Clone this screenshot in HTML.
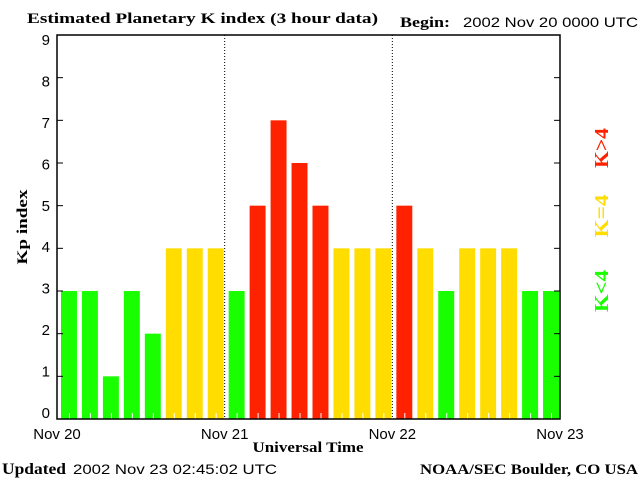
<!DOCTYPE html>
<html><head><meta charset="utf-8"><style>
body{margin:0;background:#fff;}
svg text{font-family:"Liberation Sans",sans-serif;}
.serif{font-family:"Liberation Serif",serif;font-weight:bold;}
</style></head><body>
<svg width="640" height="480" xmlns="http://www.w3.org/2000/svg">
<text class="serif" x="27" y="23" font-size="15" textLength="351" lengthAdjust="spacingAndGlyphs">Estimated Planetary K index (3 hour data)</text>
<text class="serif" x="400" y="27" font-size="15" textLength="50" lengthAdjust="spacingAndGlyphs">Begin:</text>
<text x="463" y="27" font-size="14" textLength="175" lengthAdjust="spacingAndGlyphs">2002 Nov 20 0000 UTC</text>
<g id="plot"></g>
<text class="serif" transform="translate(27,227) rotate(-90)" text-anchor="middle" font-size="15" textLength="75" lengthAdjust="spacingAndGlyphs">Kp index</text>
<text class="serif" x="308" y="452" text-anchor="middle" font-size="15" textLength="111" lengthAdjust="spacingAndGlyphs">Universal Time</text>
<text class="serif" x="2" y="474" font-size="16" textLength="64" lengthAdjust="spacingAndGlyphs">Updated</text>
<text x="73" y="474" font-size="14" textLength="204" lengthAdjust="spacingAndGlyphs">2002 Nov 23 02:45:02 UTC</text>
<text class="serif" x="420" y="474" font-size="15" textLength="218" lengthAdjust="spacingAndGlyphs">NOAA/SEC Boulder, CO USA</text>
<text class="serif" transform="translate(608,148) rotate(-90)" text-anchor="middle" font-size="20" textLength="40" lengthAdjust="spacingAndGlyphs" fill="#ff2200">K&gt;4</text>
<text class="serif" transform="translate(608,216) rotate(-90)" text-anchor="middle" font-size="20" textLength="43" lengthAdjust="spacingAndGlyphs" fill="#ffdd00">K=4</text>
<text class="serif" transform="translate(608,291) rotate(-90)" text-anchor="middle" font-size="20" textLength="42" lengthAdjust="spacingAndGlyphs" fill="#1aff00">K&lt;4</text>
</svg>
<script>
const kpValues=[3,3,1,3,2,4,4,4,3,5,7,6,5,4,4,4,5,4,3,4,4,4,3,3];
const yTicks=[0,1,2,3,4,5,6,7,8,9];
const dayLabels=["Nov 20","Nov 21","Nov 22","Nov 23"];
const NS="http://www.w3.org/2000/svg";
const L=57,R=560,T=35,B=419;
const slot=(R-L)/kpValues.length;
function xs(i){return L+i*slot;}
function ys(v){return B-(B-T)*v/9;}
function yl(v){return 413-(413-40)*v/9;}
const g=document.getElementById('plot');
function mk(t,a){const e=document.createElementNS(NS,t);for(const k in a)e.setAttribute(k,a[k]);g.appendChild(e);return e;}
kpValues.forEach((v,i)=>{
 const c=v>4?'#ff2200':(v==4?'#ffdd00':'#1aff00');
 const r=mk('rect',{x:xs(i)+4,y:ys(v),width:slot-5,height:B-ys(v),fill:c});
 
 
 mk('line',{x1:xs(i)+slot/2+2,x2:xs(i)+slot/2+2,y1:B-6,y2:B,stroke:'#fff'});
});
for(let d=1;d<3;d++){mk('line',{x1:xs(d*8),x2:xs(d*8),y1:T,y2:B,stroke:'#000','stroke-dasharray':'1,2'});}
mk('rect',{x:L,y:T,width:R-L,height:B-T,fill:'none',stroke:'#000','stroke-width':1.5});
yTicks.forEach(v=>{
 mk('line',{x1:L,x2:L+6,y1:ys(v),y2:ys(v),stroke:'#000'});
 mk('line',{x1:R-6,x2:R,y1:ys(v),y2:ys(v),stroke:'#000'});
 const t=mk('text',{x:L-7,y:yl(v)+5,'text-anchor':'end','font-size':15});
 t.textContent=v;
 
 
});
dayLabels.forEach((s,d)=>{
 const t=mk('text',{x:xs(d*8),y:439,'text-anchor':'middle','font-size':15});
 t.textContent=s;
 
 
});
</script>
</body></html>
